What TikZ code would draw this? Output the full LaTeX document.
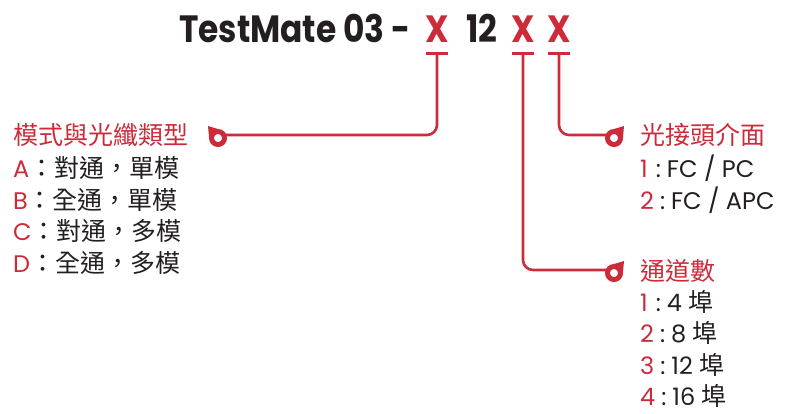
\documentclass[tikz,border=0pt]{standalone}
\usepackage{fontspec}
\setmainfont{Poppins}
\newfontfamily\ttlfont[FakeStretch=0.865]{Poppins}
\newfontfamily\cjk{Noto Sans CJK TC}
\usetikzlibrary{calc}
\definecolor{brand}{RGB}{204,43,58}
\definecolor{ink}{RGB}{35,31,32}
\begin{document}
\begin{tikzpicture}[x=1pt,y=-1pt,
  conn/.style={draw=brand, line width=2.6pt, rounded corners=10pt},
  tbar/.style={draw=brand, line width=3pt},
  ttl/.style={font=\ttlfont\fontsize{38}{38}\selectfont\bfseries, text=ink, inner sep=0pt, anchor=base},
  xmark/.style={ttl, text=brand},
  head/.style={font=\cjk\fontsize{25}{25}\selectfont, text=brand, inner sep=0pt, anchor=base west},
  item/.style={font=\fontsize{24}{24}\selectfont, text=ink, inner sep=0pt, anchor=base west},
  ring/.style={circle, draw=brand, line width=5pt, minimum size=13pt, inner sep=0pt},
]
\useasboundingbox (0,0) rectangle (787,413);
% title
\node[ttl, anchor=base east] (t0) at (411,42) {TestMate 03 -};
\node[xmark] (x1) at (437,42) {X};
\node[ttl] (t12) at (482,42) {12};
\node[xmark] (x2) at (523,42) {X};
\node[xmark] (x3) at (559,42) {X};
% bars
\coordinate (b1) at ($(x1.base)+(0,11)$);
\coordinate (b2) at ($(x2.base)+(0,11)$);
\coordinate (b3) at ($(x3.base)+(0,11)$);
\foreach \b in {b1,b2,b3} \draw[tbar] ($(\b)+(-11,0)$) -- ($(\b)+(11,0)$);
% rings
\node[ring] (r1) at (218,138) {};
\node[ring] (r2) at (614,138) {};
\node[ring] (r3) at (614,273) {};
\fill[brand] ($(r1.center)+(0,-9)$) -- ($(r1.center)+(-10,-12)$) -- ($(r1.center)+(-9,-1)$) -- cycle;
\fill[brand] ($(r2.center)+(0,-9)$) -- ($(r2.center)+(10,-12)$) -- ($(r2.center)+(9,-1)$) -- cycle;
\fill[brand] ($(r3.center)+(0,-9)$) -- ($(r3.center)+(10,-12)$) -- ($(r3.center)+(9,-1)$) -- cycle;
% connectors
\draw[conn] (b1) |- ($(r1.center)+(7,-3)$);
\draw[conn] (b3) |- ($(r2.center)+(-7,-3)$);
\draw[conn] (b2) |- ($(r3.center)+(-7,-3)$);
% left block
\node[head] (h1) at (13,144) {模式與光纖類型};
\node[item] (a1) at (13,177.5) {\textcolor{brand}{A}{\cjk\fontsize{25}{25}\selectfont ：對通，單模}};
\node[item] (a2) at (13,209) {\textcolor{brand}{B}{\cjk\fontsize{25}{25}\selectfont ：全通，單模}};
\node[item] (a3) at (13,240.5) {\textcolor{brand}{C}{\cjk\fontsize{25}{25}\selectfont ：對通，多模}};
\node[item] (a4) at (13,272) {\textcolor{brand}{D}{\cjk\fontsize{25}{25}\selectfont ：全通，多模}};
% right top block
\node[head] (h2) at (640,144) {光接頭介面};
\node[item] (c1) at (640,177.5) {\textcolor{brand}{1}\hspace{8pt}:\hspace{6pt}FC / PC};
\node[item] (c2) at (640,209.5) {\textcolor{brand}{2}\hspace{6pt}:\hspace{6pt}FC / APC};
% right bottom block
\node[head] (h3) at (640,280) {通道數};
\node[item] (n1) at (640,311) {\textcolor{brand}{1}\hspace{8pt}:\hspace{6pt}4 {\cjk\fontsize{25}{25}\selectfont 埠}};
\node[item] (n2) at (640,342.5) {\textcolor{brand}{2}\hspace{6pt}:\hspace{6pt}8 {\cjk\fontsize{25}{25}\selectfont 埠}};
\node[item] (n3) at (640,374) {\textcolor{brand}{3}\hspace{6pt}:\hspace{6pt}12 {\cjk\fontsize{25}{25}\selectfont 埠}};
\node[item] (n4) at (640,405) {\textcolor{brand}{4}\hspace{6pt}:\hspace{6pt}16 {\cjk\fontsize{25}{25}\selectfont 埠}};
\end{tikzpicture}
\end{document}
